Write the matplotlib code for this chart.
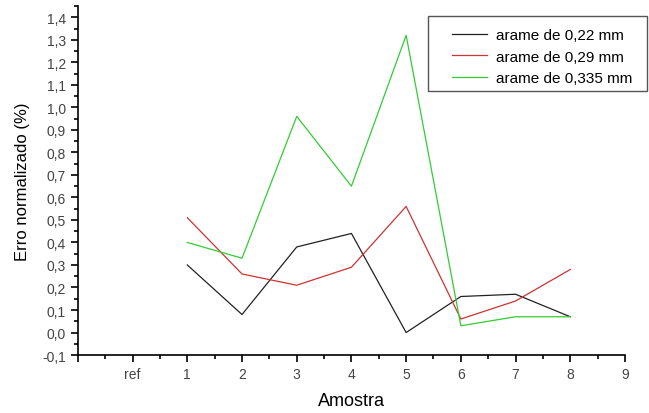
import matplotlib
matplotlib.use('Agg')
import matplotlib.pyplot as plt
from matplotlib.patches import Rectangle
from matplotlib.ticker import MultipleLocator, FuncFormatter

plt.rcParams['font.family'] = ['Liberation Sans', 'DejaVu Sans']

amostras = [2, 3, 4, 5, 6, 7, 8, 9]  # posições de 1..8 no eixo (ref fica em 1)
tick_labels = ['', 'ref', '1', '2', '3', '4', '5', '6', '7', '8', '9']
arame_022 = [0.30, 0.08, 0.38, 0.44, 0.00, 0.16, 0.17, 0.07]
arame_029 = [0.51, 0.26, 0.21, 0.29, 0.56, 0.06, 0.14, 0.28]
arame_0335 = [0.40, 0.33, 0.96, 0.65, 1.32, 0.03, 0.07, 0.07]

fig = plt.figure(figsize=(6.49, 4.14), dpi=100)
ax = fig.add_axes([0.120, 0.140, 0.843, 0.843])

ax.plot(amostras, arame_022, color='#222222', lw=0.9, label='arame de 0,22 mm')
ax.plot(amostras, arame_029, color='#cc3333', lw=0.9, label='arame de 0,29 mm')
ax.plot(amostras, arame_0335, color='#33cc33', lw=0.9, label='arame de 0,335 mm')

ax.set_xlim(0, 10)
ax.set_ylim(-0.1, 1.45)
ax.set_xticks(range(11))
ax.set_xticklabels(tick_labels)
ax.xaxis.set_minor_locator(MultipleLocator(0.5))
ax.yaxis.set_major_locator(MultipleLocator(0.1))
ax.yaxis.set_minor_locator(MultipleLocator(0.05))
ax.yaxis.set_major_formatter(FuncFormatter(lambda v, p: ('%.1f' % v).replace('.', ',') if v <= 1.41 else ''))

for s in ['top', 'right']:
    ax.spines[s].set_visible(False)
for s in ['left', 'bottom']:
    ax.spines[s].set_linewidth(1.2)
ax.tick_params(which='major', direction='out', length=5, width=1.2, labelsize=10, labelcolor='#444444')
ax.tick_params(which='minor', direction='out', length=3, width=1.2)

ax.set_xlabel('Amostra', fontsize=13, labelpad=8)
ax.set_ylabel('Erro normalizado (%)', fontsize=12, labelpad=9)

# moldura da legenda
fig.patches.append(Rectangle((428 / 649, 1 - 92 / 414), 219 / 649, 75 / 414,
                             transform=fig.transFigure, fill=False,
                             edgecolor='#555555', lw=1.0))
leg = ax.legend(loc='upper left', bbox_to_anchor=(452 / 649, 1 - 29 / 414),
                bbox_transform=fig.transFigure, frameon=False, fontsize=11,
                handlelength=2.3, handletextpad=0.6, borderpad=0, borderaxespad=0,
                labelspacing=0.5)

fig.savefig('out.png', dpi=100)
